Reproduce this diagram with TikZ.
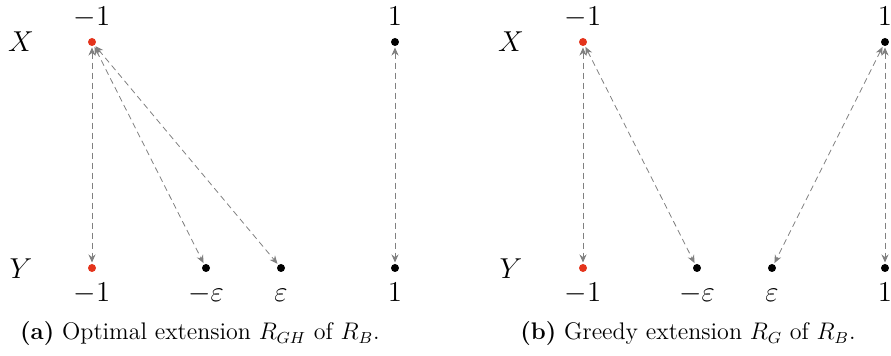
\documentclass[tikz,border=0pt]{standalone}
\usetikzlibrary{arrows.meta}

\definecolor{ptred}{RGB}{228,52,28}

\tikzset{every picture/.style={line width=0.5pt}}
\tikzset{
  pt/.style={circle,fill=black,inner sep=0pt,minimum size=4pt},
  ptr/.style={pt,fill=ptred},
  rel/.style={gray,line width=0.4pt,dash pattern=on 3pt off 2pt,{Stealth[length=4pt,width=3.5pt]}-{Stealth[length=4pt,width=3.5pt]},shorten <=0.5pt,shorten >=0.5pt},
  lab/.style={inner sep=0pt,font=\Large,anchor=base},
  setlab/.style={inner sep=0pt,font=\Large,anchor=base},
  captext/.style={inner sep=0pt,font=\large,anchor=base}
}

\begin{document}
\begin{tikzpicture}[x=0.5pt,y=0.5pt,yscale=-1,xscale=1]
\useasboundingbox (0,0) rectangle (891,356);

%%% (a) optimal extension
% Set labels
\draw (21,52) node [setlab] (aX) {$X$};
\draw (21,279) node [setlab] (aY) {$Y$};
% Points of X
\draw (92,42) node [ptr] (ax1) {};
\draw (395,42) node [pt] (ax2) {};
% Points of Y
\draw (92,268) node [ptr] (ay1) {};
\draw (206,268) node [pt] (ay2) {};
\draw (281,268) node [pt] (ay3) {};
\draw (395,268) node [pt] (ay4) {};
% Text Node
\draw (92,26) node [lab] (ax1l) {$-1$};
\draw (395,26) node [lab] (ax2l) {$1$};
\draw (92,302) node [lab] (ay1l) {$-1$};
\draw (206,302) node [lab] (ay2l) {$-\varepsilon$};
\draw (281,302) node [lab] (ay3l) {$\varepsilon$};
\draw (395,302) node [lab] (ay4l) {$1$};
% Relation
\draw [rel] (ax1) -- (ay1);
\draw [rel] (ax1) -- (ay2);
\draw [rel] (ax1) -- (ay3);
\draw [rel] (ax2) -- (ay4);
% Caption
\draw (200,340) node [captext] (capa) {\textbf{(a)} Optimal extension $R_{GH}$ of $R_B$.};

%%% (b) greedy extension
% Set labels
\draw (511,52) node [setlab] (bX) {$X$};
\draw (511,279) node [setlab] (bY) {$Y$};
% Points of X
\draw (583,42) node [ptr] (bx1) {};
\draw (885,42) node [pt] (bx2) {};
% Points of Y
\draw (583,268) node [ptr] (by1) {};
\draw (697,268) node [pt] (by2) {};
\draw (772,268) node [pt] (by3) {};
\draw (885,268) node [pt] (by4) {};
% Text Node
\draw (583,26) node [lab] (bx1l) {$-1$};
\draw (885,26) node [lab] (bx2l) {$1$};
\draw (583,302) node [lab] (by1l) {$-1$};
\draw (697,302) node [lab] (by2l) {$-\varepsilon$};
\draw (772,302) node [lab] (by3l) {$\varepsilon$};
\draw (885,302) node [lab] (by4l) {$1$};
% Relation
\draw [rel] (bx1) -- (by1);
\draw [rel] (bx1) -- (by2);
\draw [rel] (bx2) -- (by3);
\draw [rel] (bx2) -- (by4);
% Caption
\draw (688,340) node [captext] (capb) {\textbf{(b)} Greedy extension $R_G$ of $R_B$.};

\end{tikzpicture}
\end{document}
